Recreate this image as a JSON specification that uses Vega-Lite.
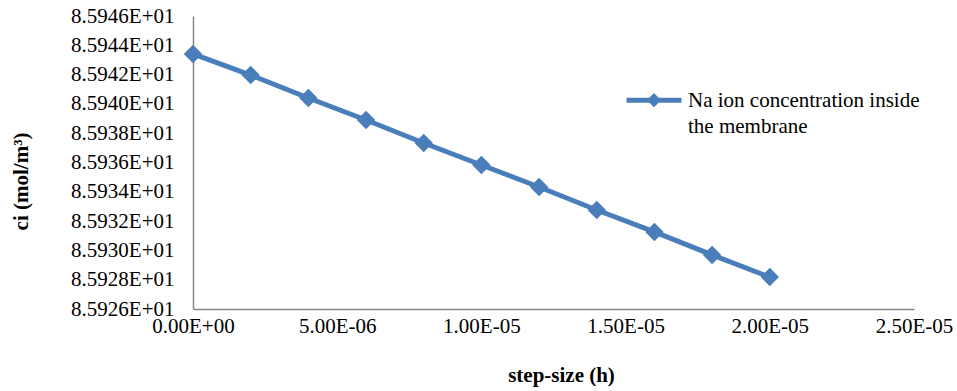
{
  "$schema": "https://vega.github.io/schema/vega-lite/v6.json",
  "width": 721,
  "height": 293,
  "autosize": {"type": "none"},
  "padding": {"left": 193, "top": 16, "right": 43, "bottom": 82},
  "background": "white",
  "config": {
    "view": {"stroke": null},
    "font": "Times New Roman, Liberation Serif, serif",
    "axis": {
      "grid": false,
      "ticks": false,
      "labelFlush": false,
      "domainColor": "#868686",
      "domainWidth": 1.5,
      "labelFont": "Times New Roman, Liberation Serif, serif",
      "labelFontSize": 21,
      "labelColor": "black",
      "titleFont": "Times New Roman, Liberation Serif, serif",
      "titleFontSize": 21,
      "titleFontWeight": "bold",
      "titleColor": "black"
    },
    "legend": {
      "labelFont": "Times New Roman, Liberation Serif, serif"
    }
  },
  "data": {
    "values": [
      {"h": 0, "ci": 85.94341, "series": "Na"},
      {"h": 2e-6, "ci": 85.94197, "series": "Na"},
      {"h": 4e-6, "ci": 85.94040, "series": "Na"},
      {"h": 6e-6, "ci": 85.93890, "series": "Na"},
      {"h": 8e-6, "ci": 85.93733, "series": "Na"},
      {"h": 1e-5, "ci": 85.93583, "series": "Na"},
      {"h": 1.2e-5, "ci": 85.93433, "series": "Na"},
      {"h": 1.4e-5, "ci": 85.93276, "series": "Na"},
      {"h": 1.6e-5, "ci": 85.93126, "series": "Na"},
      {"h": 1.8e-5, "ci": 85.92969, "series": "Na"},
      {"h": 2e-5, "ci": 85.92818, "series": "Na"}
    ]
  },
  "mark": {
    "type": "line",
    "strokeWidth": 5,
    "point": {"shape": "diamond", "size": 340, "filled": true, "opacity": 1}
  },
  "encoding": {
    "x": {
      "field": "h",
      "type": "quantitative",
      "scale": {"domain": [0, 2.5e-5], "nice": false, "zero": false},
      "axis": {
        "title": "step-size (h)",
        "values": [0, 5e-6, 1e-5, 1.5e-5, 2e-5, 2.5e-5],
        "labelPadding": 6,
        "labelExpr": "datum.value == 0 ? '0.00E+00' : (datum.value < 9.9e-6 ? format(datum.value*1e6, '.2f') + 'E-06' : format(datum.value*1e5, '.2f') + 'E-05')",
        "titleX": 368,
        "titleY": 66,
        "titleBaseline": "middle"
      }
    },
    "y": {
      "field": "ci",
      "type": "quantitative",
      "scale": {"domain": [85.926, 85.946], "nice": false, "zero": false},
      "axis": {
        "title": "ci (mol/m³)",
        "values": [85.926, 85.928, 85.93, 85.932, 85.934, 85.936, 85.938, 85.94, 85.942, 85.944, 85.946],
        "labelPadding": 19,
        "labelExpr": "format(datum.value/10, '.4f') + 'E+01'",
        "titleX": -172,
        "titleY": 165,
        "titleAngle": -90,
        "titleBaseline": "middle",
        "titleAlign": "center"
      }
    },
    "color": {
      "field": "series",
      "type": "nominal",
      "scale": {"range": ["#4a7ebb"]},
      "legend": {
        "title": null,
        "orient": "none",
        "legendX": 431,
        "legendY": 61,
        "symbolType": "M-1,-0.25L1,-0.25M-0.13,-0.25L0,-0.38L0.13,-0.25L0,-0.12Z",
        "symbolSize": 3025,
        "symbolStrokeWidth": 5,
        "symbolFillColor": "#4a7ebb",
        "labelFont": "Times New Roman, Liberation Serif, serif",
        "labelFontSize": 21,
        "labelColor": "black",
        "labelOffset": 4,
        "labelLimit": 400,
        "labelBaseline": "alphabetic",
        "labelExpr": "['Na ion concentration inside', 'the membrane']",
        "encode": {"labels": {"update": {"lineHeight": {"value": 26}}}}
      }
    }
  }
}
